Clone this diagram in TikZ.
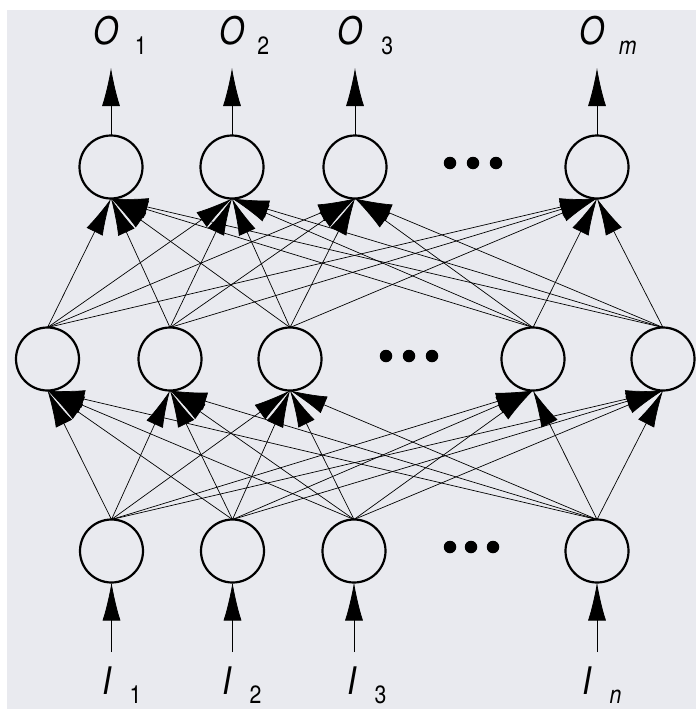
\documentclass[tikz,border=0pt]{standalone}
\usepackage{fontspec}
\setmainfont{TeX Gyre Heros}
\newfontfamily\labfont[FakeStretch=0.85]{TeX Gyre Heros}
\usetikzlibrary{arrows.meta}
\definecolor{paper}{RGB}{233,234,239}
\newcommand{\sublab}[1]{\raisebox{-9.5pt}{\fontsize{25}{27}\selectfont #1}}
\begin{document}
\begin{tikzpicture}[x=1pt,y=-1pt,
  neuron/.style={circle,draw,line width=2.2pt,minimum size=63pt,inner sep=0pt,outer sep=0pt},
  conn/.style={line width=0.7pt,-{Latex[length=37pt,width=18pt]}},
  io/.style={line width=0.8pt,-{Latex[length=38pt,width=18pt]}},
  dotnode/.style={circle,fill,inner sep=0pt,minimum size=12.5pt},
  lab/.style={anchor=base west,inner sep=0pt,font=\labfont\fontsize{38}{40}\selectfont}
]
\useasboundingbox (0,0) rectangle (696,709);
\fill[white] (0,0) rectangle (696,709);
\fill[paper] (7,10) rectangle (696,709);

% output layer
\node[neuron] (o1) at (111,167) {};
\node[neuron] (o2) at (232,167) {};
\node[neuron] (o3) at (355,167) {};
\node[neuron] (om) at (597,167) {};
\node[dotnode] (od1) at (450,163) {};
\node[dotnode] (od2) at (473,163) {};
\node[dotnode] (od3) at (496,163) {};

% hidden layer
\node[neuron] (h1) at (47.5,359) {};
\node[neuron] (h2) at (170,359) {};
\node[neuron] (h3) at (290,359) {};
\node[neuron] (h4) at (533,359) {};
\node[neuron] (h5) at (663,359) {};
\node[dotnode] (hd1) at (386,356) {};
\node[dotnode] (hd2) at (409,356) {};
\node[dotnode] (hd3) at (432,356) {};

% input layer
\node[neuron] (i1) at (111.5,551) {};
\node[neuron] (i2) at (232.5,551) {};
\node[neuron] (i3) at (354,551) {};
\node[neuron] (in) at (597,551) {};
\node[dotnode] (id1) at (450,547) {};
\node[dotnode] (id2) at (471,547) {};
\node[dotnode] (id3) at (493,547) {};

% connections input -> hidden
\foreach \s in {i1,i2,i3,in}
  \foreach \t in {h1,h2,h3,h4,h5}
    \draw[conn] (\s.north) -- (\t.south);
% connections hidden -> output
\foreach \s in {h1,h2,h3,h4,h5}
  \foreach \t in {o1,o2,o3,om}
    \draw[conn] (\s.north) -- (\t.south);

% output arrows
\coordinate (o1t) at (111,68);
\coordinate (o2t) at (232,68);
\coordinate (o3t) at (355,68);
\coordinate (omt) at (597,68);
\draw[io] (o1.north) -- (o1t);
\draw[io] (o2.north) -- (o2t);
\draw[io] (o3.north) -- (o3t);
\draw[io] (om.north) -- (omt);

% input arrows
\coordinate (i1b) at (111.5,652);
\coordinate (i2b) at (232.5,652);
\coordinate (i3b) at (354,652);
\coordinate (inb) at (597,652);
\draw[io] (i1b) -- (i1.south);
\draw[io] (i2b) -- (i2.south);
\draw[io] (i3b) -- (i3.south);
\draw[io] (inb) -- (in.south);

% labels
\node[lab] (lo1) at (93,45) {\itshape O\upshape\hspace{16.5pt}\sublab{1}};
\node[lab] (lo2) at (219,45) {\itshape O\upshape\hspace{13pt}\sublab{2}};
\node[lab] (lo3) at (337,45) {\itshape O\upshape\hspace{19pt}\sublab{3}};
\node[lab] (lom) at (579,45) {\itshape O\hspace{14.5pt}\sublab{m}};

\node[lab] (li1) at (102,694) {\itshape I\upshape\hspace{18.5pt}\sublab{1}};
\node[lab] (li2) at (222,694) {\itshape I\upshape\hspace{18.5pt}\sublab{2}};
\node[lab] (li3) at (347,694) {\itshape I\upshape\hspace{18.5pt}\sublab{3}};
\node[lab] (lin) at (582,694) {\itshape I\hspace{18.5pt}\sublab{n}};
\end{tikzpicture}
\end{document}
